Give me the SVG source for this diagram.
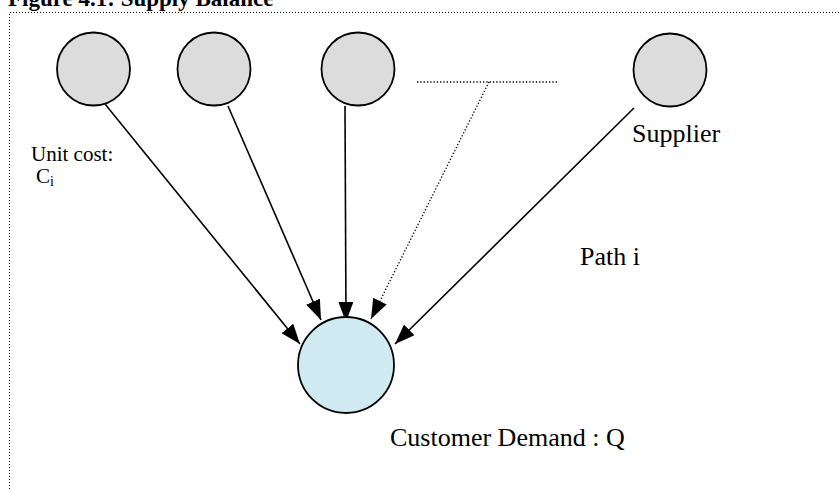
<svg xmlns="http://www.w3.org/2000/svg" width="840" height="489" viewBox="0 0 840 489">
<style>
.t{font-family:"Liberation Serif","Times New Roman",serif;font-size:26px;fill:#000}
.s{font-family:"Liberation Serif","Times New Roman",serif;font-size:21px;fill:#000}
.title{font-family:"Liberation Serif","Times New Roman",serif;font-size:23px;font-weight:bold;fill:#000}
.sup{fill:#dcdcdc;stroke:#000;stroke-width:1.8}
.dem{fill:#cfeaf0;stroke:#000;stroke-width:1.8}
.ln{stroke:#000;stroke-width:1.6;fill:none}
.dot{stroke:#000;stroke-width:1.3;fill:none;stroke-dasharray:1.3 2}
.frame{stroke:#000;stroke-width:1;fill:none;stroke-dasharray:1 2}
</style>
<defs>
<marker id="ah" viewBox="0 0 20 15" refX="20" refY="7.5" markerWidth="20" markerHeight="15" markerUnits="userSpaceOnUse" orient="auto">
<path d="M0,0 L20,7.5 L0,15 z" fill="#000"/>
</marker>
</defs>
<rect width="840" height="489" fill="#fff"/>
<text class="title" x="8" y="6">Figure 4.1: Supply Balance</text>
<path class="frame" d="M9.5,489 V12.5 H840"/>
<g id="connectors">
<line class="ln" x1="105" y1="104" x2="300" y2="344" marker-end="url(#ah)"/>
<line class="ln" x1="228" y1="106" x2="321" y2="320" marker-end="url(#ah)"/>
<line class="ln" x1="345" y1="106" x2="346" y2="322" marker-end="url(#ah)"/>
<polyline class="dot" points="417,82 559,82"/>
<line class="dot" x1="489" y1="82" x2="371" y2="319" marker-end="url(#ah)"/>
<line class="ln" x1="634" y1="108" x2="395" y2="344" marker-end="url(#ah)"/>
</g>
<g id="supplier1"><circle class="sup" cx="93.5" cy="69" r="36.5"/></g>
<g id="supplier2"><circle class="sup" cx="214" cy="69" r="36.5"/></g>
<g id="supplier3"><circle class="sup" cx="358" cy="69" r="36.5"/></g>
<g id="supplier-n"><circle class="sup" cx="670" cy="70" r="36.5"/>
<text class="t" x="632" y="142">Supplier</text></g>
<g id="demand"><circle class="dem" cx="346" cy="365" r="48"/>
<text class="t" x="390" y="446">Customer Demand : Q</text></g>
<text class="s" x="31" y="161">Unit cost:</text>
<text class="s" x="36" y="183">C<tspan font-size="14" dy="3">i</tspan></text>
<text class="t" x="580" y="265">Path i</text>
</svg>
